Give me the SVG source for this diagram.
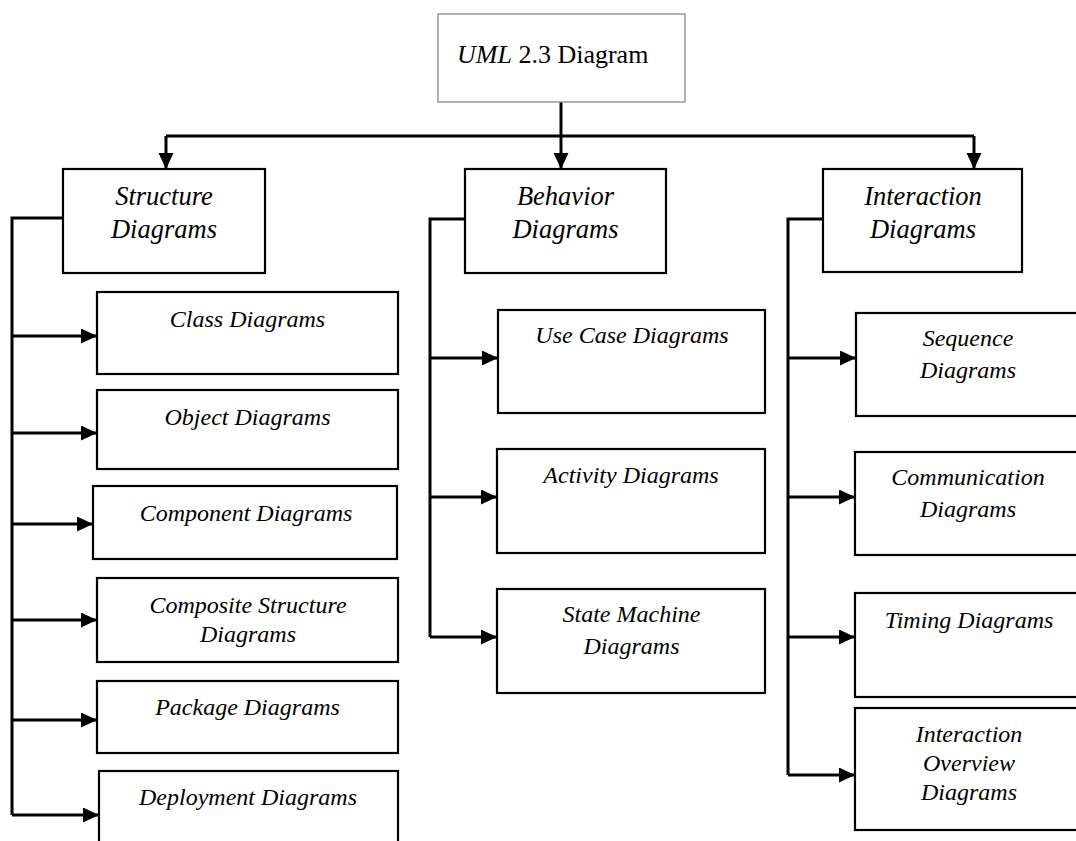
<svg xmlns="http://www.w3.org/2000/svg" width="1076" height="841" viewBox="0 0 1076 841">
<style>
.box{fill:#fff;stroke:#000;stroke-width:2.2}
.top{fill:#fff;stroke:#8a8a8a;stroke-width:1.3}
.t{font-family:"Liberation Serif","Times New Roman",serif;font-style:italic;fill:#000;text-anchor:middle}
.cat{font-size:26.5px}
.leaf{font-size:24px}
.c{fill:none;stroke:#000;stroke-width:3}
</style>
<defs>
<marker id="ah" markerUnits="userSpaceOnUse" markerWidth="17" markerHeight="16" refX="16" refY="7.5" orient="auto">
<path d="M0,0 L16,7.5 L0,15 z" fill="#000"/>
</marker>
</defs>
<g id="connectors">
<path class="c" d="M561,102 V169" marker-end="url(#ah)"/>
<path class="c" d="M166,136 H974"/>
<path class="c" d="M166,136 V169" marker-end="url(#ah)"/>
<path class="c" d="M974,136 V169" marker-end="url(#ah)"/>
<path class="c" d="M63,218 H12 V815"/>
<path class="c" d="M12,336 H97" marker-end="url(#ah)"/>
<path class="c" d="M12,433 H97" marker-end="url(#ah)"/>
<path class="c" d="M12,524 H93" marker-end="url(#ah)"/>
<path class="c" d="M12,620 H97" marker-end="url(#ah)"/>
<path class="c" d="M12,720 H97" marker-end="url(#ah)"/>
<path class="c" d="M12,815 H99" marker-end="url(#ah)"/>
<path class="c" d="M465,219 H430 V637"/>
<path class="c" d="M430,358 H498" marker-end="url(#ah)"/>
<path class="c" d="M430,497 H497" marker-end="url(#ah)"/>
<path class="c" d="M430,637 H497" marker-end="url(#ah)"/>
<path class="c" d="M823,219 H788 V775"/>
<path class="c" d="M788,358 H856" marker-end="url(#ah)"/>
<path class="c" d="M788,497 H855" marker-end="url(#ah)"/>
<path class="c" d="M788,637 H855" marker-end="url(#ah)"/>
<path class="c" d="M788,775 H855" marker-end="url(#ah)"/>
</g>
<g id="uml">
<rect class="top" x="438" y="14" width="247" height="88"/>
<text x="457" y="63" font-family="'Liberation Serif','Times New Roman',serif" font-size="26" fill="#000"><tspan font-style="italic">UML</tspan> 2.3 Diagram</text>
</g>
<g id="structure">
<rect class="box" x="63" y="169" width="202" height="104"/>
<text class="t cat" x="164" y="205">Structure</text>
<text class="t cat" x="164" y="238">Diagrams</text>
</g>
<g id="behavior">
<rect class="box" x="465" y="169" width="201" height="104"/>
<text class="t cat" x="565.5" y="205">Behavior</text>
<text class="t cat" x="565.5" y="238">Diagrams</text>
</g>
<g id="interaction">
<rect class="box" x="823" y="169" width="199" height="103"/>
<text class="t cat" x="923" y="205">Interaction</text>
<text class="t cat" x="923" y="238">Diagrams</text>
</g>
<g id="class">
<rect class="box" x="97" y="292" width="301" height="82"/>
<text class="t leaf" x="247.5" y="327">Class Diagrams</text>
</g>
<g id="object">
<rect class="box" x="97" y="390" width="301" height="79"/>
<text class="t leaf" x="247.5" y="425">Object Diagrams</text>
</g>
<g id="component">
<rect class="box" x="93" y="486" width="304" height="73"/>
<text class="t leaf" x="246" y="521">Component Diagrams</text>
</g>
<g id="composite">
<rect class="box" x="97" y="578" width="301" height="84"/>
<text class="t leaf" x="248" y="613">Composite Structure</text>
<text class="t leaf" x="248" y="642">Diagrams</text>
</g>
<g id="package">
<rect class="box" x="97" y="681" width="301" height="72"/>
<text class="t leaf" x="247.5" y="715">Package Diagrams</text>
</g>
<g id="deployment">
<rect class="box" x="99" y="771" width="299" height="90"/>
<text class="t leaf" x="248" y="805">Deployment Diagrams</text>
</g>
<g id="usecase">
<rect class="box" x="498" y="310" width="267" height="103"/>
<text class="t leaf" x="632" y="343">Use Case Diagrams</text>
</g>
<g id="activity">
<rect class="box" x="497" y="449" width="268" height="104"/>
<text class="t leaf" x="631" y="483">Activity Diagrams</text>
</g>
<g id="statemachine">
<rect class="box" x="497" y="589" width="268" height="104"/>
<text class="t leaf" x="631.5" y="622">State Machine</text>
<text class="t leaf" x="631.5" y="654">Diagrams</text>
</g>
<g id="sequence">
<rect class="box" x="856" y="313" width="226" height="103"/>
<text class="t leaf" x="968" y="346">Sequence</text>
<text class="t leaf" x="968" y="378">Diagrams</text>
</g>
<g id="communication">
<rect class="box" x="855" y="452" width="227" height="103"/>
<text class="t leaf" x="968" y="485">Communication</text>
<text class="t leaf" x="968" y="517">Diagrams</text>
</g>
<g id="timing">
<rect class="box" x="855" y="593" width="227" height="104"/>
<text class="t leaf" x="969" y="628">Timing Diagrams</text>
</g>
<g id="overview">
<rect class="box" x="855" y="708" width="227" height="122"/>
<text class="t leaf" x="969" y="742">Interaction</text>
<text class="t leaf" x="969" y="771">Overview</text>
<text class="t leaf" x="969" y="800">Diagrams</text>
</g>
</svg>
